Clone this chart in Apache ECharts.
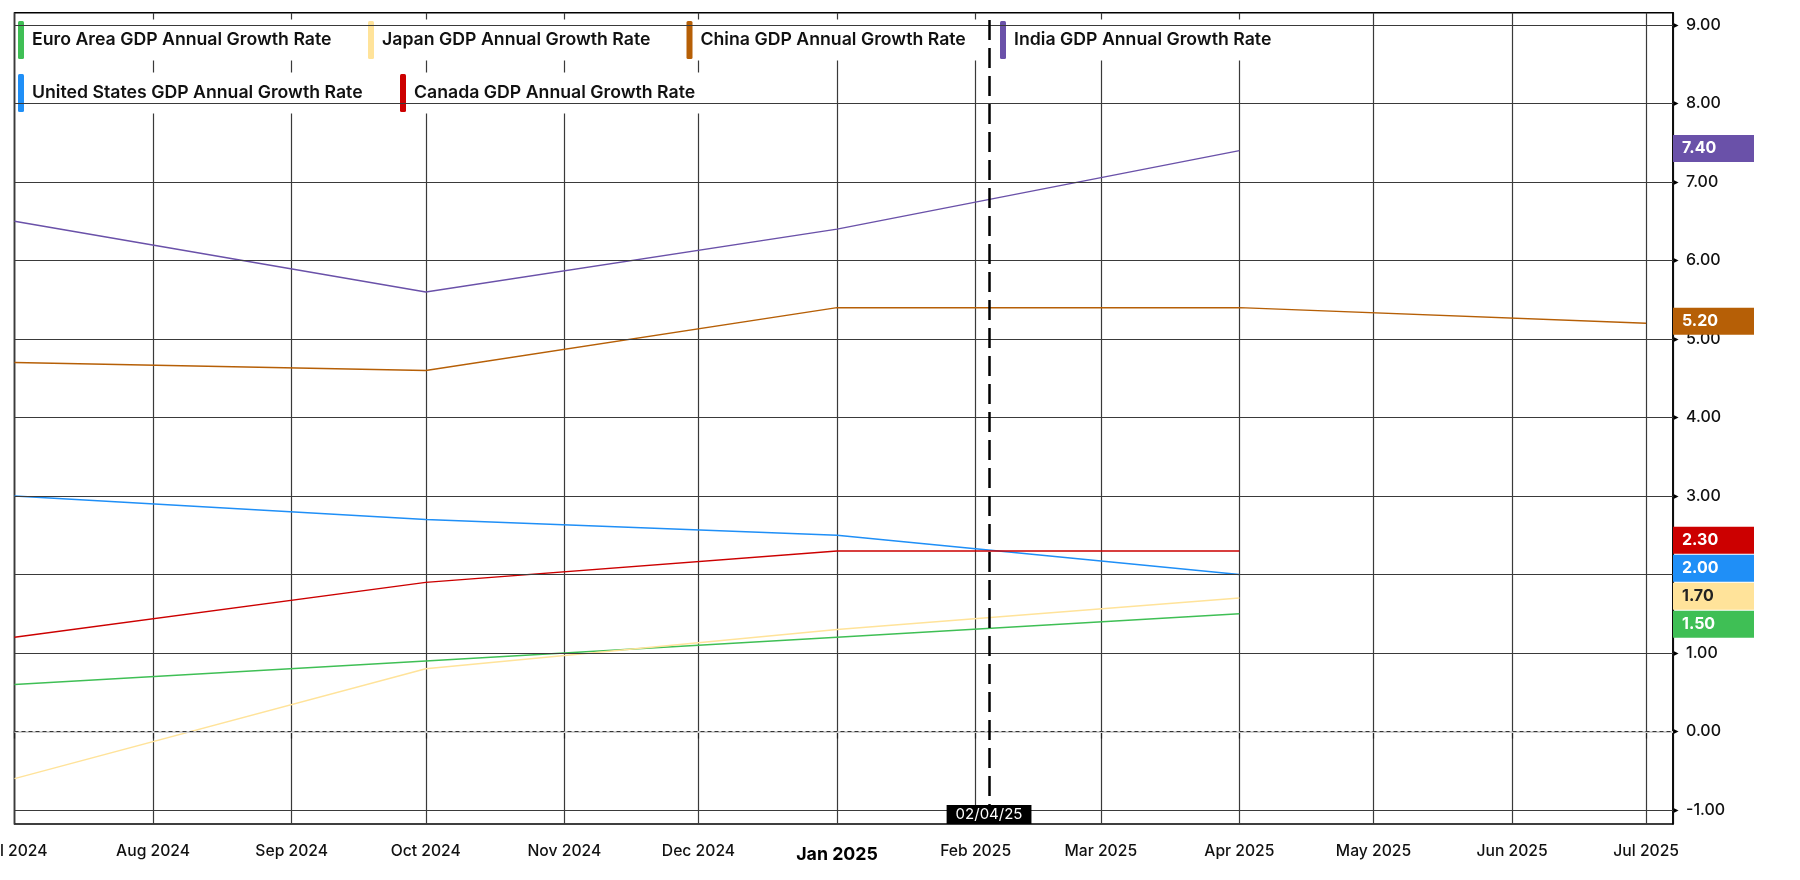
<!DOCTYPE html>
<html>
<head>
<meta charset="utf-8">
<script src="https://cdn.jsdelivr.net/npm/echarts@6/dist/echarts.min.js"></script>
<style>
html,body{margin:0;padding:0;background:#fff;}
#c{width:1800px;height:880px;}
</style>
</head>
<body>
<div id="c"></div>
<script>
// ---------------- DATA ----------------
const quarterDates = ['2024-07-01', '2024-10-01', '2025-01-01', '2025-04-01', '2025-07-01'];
const seriesNames = [
  'Euro Area GDP Annual Growth Rate',
  'Japan GDP Annual Growth Rate',
  'China GDP Annual Growth Rate',
  'India GDP Annual Growth Rate',
  'United States GDP Annual Growth Rate',
  'Canada GDP Annual Growth Rate'
];
const euroArea     = [0.6, 0.9, 1.2, 1.5];
const japan        = [-0.6, 0.8, 1.3, 1.7];
const china        = [4.7, 4.6, 5.4, 5.4, 5.2];
const india        = [6.5, 5.6, 6.4, 7.4];
const unitedStates = [3.0, 2.7, 2.5, 2.0];
const canada       = [1.2, 1.9, 2.3, 2.3];
const yTicks = [-1, 0, 1, 2, 3, 4, 5, 6, 7, 8, 9];
const monthNames = ['Jan','Feb','Mar','Apr','May','Jun','Jul','Aug','Sep','Oct','Nov','Dec'];
const eventDate = '2025-02-04';
const eventLabel = '02/04/25';

// ---------------- STYLE ----------------
const allValues = [euroArea, japan, china, india, unitedStates, canada];
const colors = ['#3fbf55', '#ffe39a', '#b65f06', '#6a51a9', '#1f8ff7', '#cc0000'];
const tagTextColors = ['#fff', '#222', '#fff', '#fff', '#fff', '#fff'];
const legendPos = [[17, 19.5], [367, 19.5], [685.5, 19.5], [999, 19.5], [17, 72.5], [399, 72.5]];
const FONT = 'Inter, "Noto Sans", sans-serif';
const xMin = '2024-07-01';
const xMax = '2025-07-07';

const chart = echarts.init(document.getElementById('c'), null, { renderer: 'canvas' });

const legends = seriesNames.map((n, i) => ({
  data: [n],
  left: legendPos[i][0],
  top: legendPos[i][1],
  orient: 'horizontal',
  icon: 'roundRect',
  itemWidth: 6,
  itemHeight: 38,
  backgroundColor: '#fff',
  padding: [1.5, 25, 1.5, 1],
  selectedMode: false,
  itemStyle: { borderWidth: 0 },
  textStyle: { fontFamily: FONT, fontSize: 17.7, fontWeight: 600, color: '#111', padding: [0, 0, 0, 3] }
}));

const gridLineData = [];
yTicks.forEach(v => {
  if (v === 0) {
    gridLineData.push({ yAxis: v, lineStyle: { color: '#cfcfcf', width: 2, type: 'solid' } });
    gridLineData.push({ yAxis: v, lineStyle: { color: '#333', width: 1.2, type: [4, 3] } });
  } else {
    gridLineData.push({ yAxis: v, lineStyle: { color: '#3a3a3a', width: 1.2, type: 'solid' } });
  }
});
gridLineData.push({
  xAxis: eventDate,
  lineStyle: { color: '#000', width: 2.5, type: [20, 8] },
  label: {
    show: true, position: 'start', distance: -19, formatter: eventLabel,
    backgroundColor: '#000', color: '#fff', fontFamily: FONT, fontSize: 15,
    lineHeight: 15, padding: [2, 9, 2, 9]
  }
});

const tagValues = allValues.map(a => a[a.length - 1]);
function tagData(offsets) {
  return tagValues.map((v, i) => ({
    value: [xMax, v],
    itemStyle: { opacity: 1 },
    label: {
      show: true, position: 'right', distance: 0,
      offset: [0, offsets ? offsets[i] : 0],
      formatter: v.toFixed(2),
      backgroundColor: colors[i], color: tagTextColors[i],
      fontFamily: FONT, fontSize: 16, fontWeight: 700,
      width: 72, height: 27, lineHeight: 27, padding: [0, 0, 0, 9]
    }
  }));
}

const lineSeries = seriesNames.map((n, i) => ({
  id: 's' + i,
  name: n,
  type: 'line',
  z: 3,
  showSymbol: false,
  symbol: 'none',
  color: colors[i],
  lineStyle: { color: colors[i], width: 1.5 },
  data: allValues[i].map((v, k) => [quarterDates[k], v])
}));

const option = {
  animation: false,
  backgroundColor: '#fff',
  textStyle: { fontFamily: FONT },
  legend: legends,
  grid: {
    left: 14.5, right: 127, top: 12.7, bottom: 56,
    show: true, borderColor: '#000', borderWidth: 1.5, backgroundColor: 'transparent',
    containLabel: false, outerBoundsMode: 'none'
  },
  xAxis: {
    type: 'time',
    min: xMin, max: xMax,
    splitNumber: 12,
    minInterval: 28 * 86400000,
    maxInterval: 31 * 86400000,
    axisLine: { show: true, lineStyle: { color: '#000', width: 1.5 } },
    axisTick: { show: true, length: 7, lineStyle: { color: '#222', width: 1.2 } },
    splitLine: { show: true, lineStyle: { color: '#3a3a3a', width: 1.2 } },
    axisLabel: {
      show: true, margin: 19, color: '#111', fontFamily: FONT, fontSize: 15.7, fontWeight: 500,
      showMinLabel: true, showMaxLabel: false, hideOverlap: false,
      formatter: function (value) {
        const d = new Date(value);
        const m = d.getMonth();
        const txt = monthNames[m] + ' ' + d.getFullYear();
        return m === 0 ? '{yr|' + txt + '}' : '{mo|' + txt + '}';
      },
      rich: {
        mo: { fontFamily: FONT, fontSize: 15.7, fontWeight: 500, color: '#111' },
        yr: { fontFamily: FONT, fontSize: 17.8, fontWeight: 700, color: '#000', padding: [3, 0, 0, 0] }
      }
    }
  },
  yAxis: {
    type: 'value',
    position: 'right',
    min: yTicks[0] - 0.178,
    max: yTicks[yTicks.length - 1] + 0.157,
    axisLine: { show: true, lineStyle: { color: '#000', width: 1.5 } },
    axisTick: { show: false, customValues: yTicks },
    splitLine: { show: false },
    axisLabel: {
      show: true, margin: 1, customValues: yTicks,
      formatter: v => '{a|▶}{v|' + Number(v).toFixed(2) + '}',
      rich: {
        a: { fontFamily: 'DejaVu Sans', fontSize: 6, width: 12, color: '#000' },
        v: { fontFamily: FONT, fontSize: 16, fontWeight: 500, color: '#111' }
      }
    }
  },
  series: [
    {
      id: 'grid', name: '__grid', type: 'line', data: [], z: 1,
      markLine: {
        silent: true, symbol: 'none', animation: false,
        label: { show: false },
        emphasis: { disabled: true },
        data: gridLineData
      }
    }
  ].concat(lineSeries).concat([
    {
      id: 'tags', name: '__tags', type: 'scatter', symbolSize: 0, clip: false, z: 5,
      itemStyle: { opacity: 1 },
      silent: true, data: tagData(null)
    }
  ])
};

chart.setOption(option);

function layoutTags() {
  const H = 28;
  const items = tagValues.map((v, i) => ({ i, y: chart.convertToPixel({ yAxisIndex: 0 }, v) }));
  items.sort((a, b) => a.y - b.y);
  let clusters = items.map(it => ({ m: [it] }));
  const center = c => c.m.reduce((s, it) => s + it.y, 0) / c.m.length;
  let merged = true;
  while (merged) {
    merged = false;
    for (let k = 0; k < clusters.length - 1; k++) {
      const a = clusters[k], b = clusters[k + 1];
      const aBottom = center(a) + a.m.length * H / 2;
      const bTop = center(b) - b.m.length * H / 2;
      if (bTop < aBottom) {
        a.m = a.m.concat(b.m);
        clusters.splice(k + 1, 1);
        merged = true;
        break;
      }
    }
  }
  const offsets = [];
  clusters.forEach(c => {
    const c0 = center(c) - (c.m.length - 1) * H / 2;
    c.m.forEach((it, j) => { offsets[it.i] = c0 + j * H - it.y - 2; });
  });
  return offsets;
}

chart.setOption({ series: [{ id: 'tags', data: tagData(layoutTags()) }] });
</script>
</body>
</html>
